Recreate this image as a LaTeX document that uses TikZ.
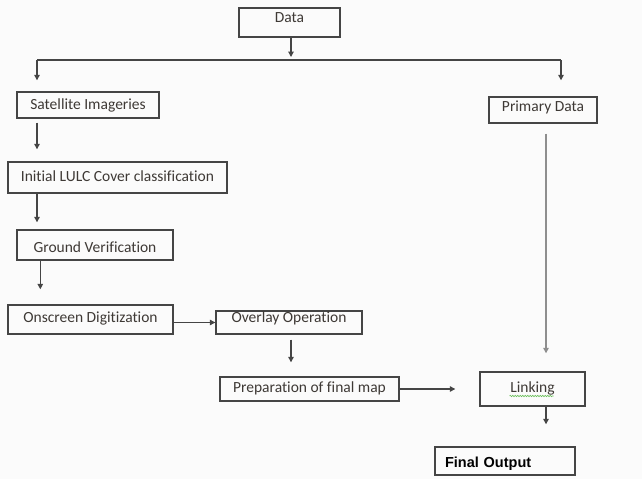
\documentclass[tikz,border=0pt]{standalone}
\usepackage{fontspec}
\setmainfont{Carlito}[Ligatures=NoCommon]
\newfontfamily\outfont{Liberation Sans}
\usepackage{xcolor}
\usetikzlibrary{arrows.meta,positioning,decorations.pathmorphing}
\definecolor{paper}{HTML}{FBFBFB}
\definecolor{boxline}{HTML}{454545}
\definecolor{boxtext}{HTML}{3E3935}
\definecolor{paleline}{HTML}{8E8E8E}
\definecolor{spellgreen}{HTML}{6CBF5C}

\tikzset{
  box/.style={rectangle, draw=boxline, line width=1.4pt, inner sep=0pt, text=boxtext,
    font=\fontsize{15.5}{18}\selectfont, text height=10.5pt, text depth=2.8pt},
  raise/.style={text depth=#1},
  arr/.style={-{Triangle[length=5.5pt,width=5.5pt]}, draw=boxline, line width=1.2pt},
  flow/.style={draw=boxline, line width=1.2pt}
}

\begin{document}
\begin{tikzpicture}[x=1pt, y=-1pt]
  \fill[paper] (0,0) rectangle (642,479);
  \useasboundingbox (0,0) rectangle (642,479);

  % boxes
  \node[box, raise=9.8pt, minimum width=101pt, minimum height=29pt] (data) at (289.5,22.5) {Data};
  \node[box, raise=0.8pt, minimum width=142pt, minimum height=26pt] (sat) at (88,105) {Satellite Imageries};
  \node[box, raise=8pt, minimum width=108pt, minimum height=26pt] (prim) at (543,110) {Primary Data};
  \node[box, raise=2.4pt, minimum width=219pt, minimum height=31pt] (lulc) at (117.5,177.5) {Initial LULC Cover classification};
  \node[box, text height=15pt, text depth=0pt, minimum width=156pt, minimum height=30pt] (ground) at (95,245) {Ground Verification};
  \node[box, raise=5.4pt, minimum width=165pt, minimum height=29pt] (onscr) at (90.5,319.5) {Onscreen Digitization};
  \node[box, raise=10.8pt, minimum width=146pt, minimum height=23pt] (overlay) at (289,322.5) {Overlay Operation};
  \node[box, minimum width=179pt, minimum height=24pt] (prep) at (309.5,389) {Preparation of final map};
  \node[box, minimum width=105pt, minimum height=34pt] (link) at (532.5,389) {Linking};
  \node[box, text=black, font=\outfont\bfseries\fontsize{14.5}{16}\selectfont, text height=13pt, text depth=0pt,
    minimum height=28pt, text width=120pt, inner xsep=10pt, align=left] (final) at (505,461) {Final Output};

  % spelling mark under Linking
  \draw[spellgreen, line width=0.6pt, decorate, decoration={snake, amplitude=0.7pt, segment length=2.5pt}]
    ([xshift=-23pt,yshift=-7pt]link.center) -- ([xshift=21pt,yshift=-7pt]link.center);

  % split below Data
  \coordinate (split) at (291,60);
  \coordinate (splitl) at (37,60);
  \coordinate (splitr) at (561,60);
  \coordinate (px) at ([xshift=3pt]prim.south);
  \draw[arr, shorten >=3pt] (data.south -| split) -- (split);
  \draw[flow] (splitl) -- (splitr);
  \draw[arr, shorten >=11pt] (splitl) -- (splitl |- sat.north);
  \draw[arr, shorten >=16pt] (splitr) -- (splitr |- prim.north);

  % left column
  \draw[arr, shorten <=4pt, shorten >=12pt] (sat.south -| splitl) -- (lulc.north -| splitl);
  \draw[arr, shorten >=7pt] (lulc.south -| splitl) -- (ground.north -| splitl);
  \draw[arr, shorten >=15pt] ([xshift=24pt]ground.south west) -- ([xshift=24pt]ground.south west |- onscr.north);
  \draw[arr] (onscr.east |- overlay) -- (overlay.west);
  \draw[arr, shorten <=5pt, shorten >=14pt] ([xshift=2pt]overlay.south) -- ([xshift=2pt]overlay.south |- prep.north);
  \draw[arr, shorten >=24pt] (prep.east) -- (link.west);

  % right column
  \draw[arr, draw=paleline, shorten <=10pt, shorten >=18pt] (px) -- (px |- link.north);
  \draw[arr, shorten >=22pt] (px |- link.south) -- (px |- final.north);
\end{tikzpicture}
\end{document}
